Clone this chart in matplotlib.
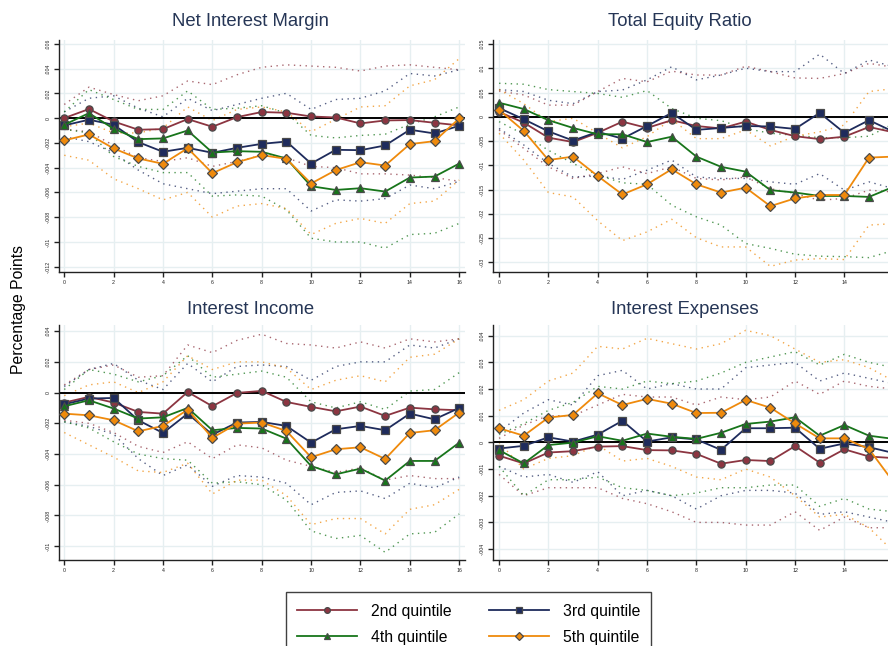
import matplotlib
matplotlib.use("Agg")
import matplotlib.pyplot as plt
from matplotlib.ticker import FixedLocator, FuncFormatter
from matplotlib.lines import Line2D
import numpy as np

plt.rcParams['font.family'] = ['Liberation Sans', 'DejaVu Sans']

horizon = list(range(17))
quintiles = ["2nd quintile", "3rd quintile", "4th quintile", "5th quintile"]
titles = ["Net Interest Margin", "Total Equity Ratio", "Interest Income", "Interest Expenses"]
ylabel = "Percentage Points"

# ---------------- Net Interest Margin ----------------
nim_q2 = [0.0, 0.00073, -0.00027, -0.00094, -0.00089, -0.00008, -0.0007, 0.00008, 0.00049, 0.00043, 0.00013, 0.00005, -0.00043, -0.00019, -0.00016, -0.00038, -0.00059]
nim_q3 = [-0.00059, -0.00013, -0.00054, -0.00194, -0.00272, -0.0024, -0.0028, -0.0024, -0.00208, -0.00189, -0.00367, -0.00256, -0.00259, -0.00221, -0.00094, -0.00124, -0.00062]
nim_q4 = [-0.00054, 0.0004, -0.00086, -0.0017, -0.00164, -0.001, -0.00278, -0.00267, -0.00272, -0.00326, -0.0055, -0.0058, -0.00566, -0.00593, -0.0048, -0.00472, -0.00367]
nim_q5 = [-0.0018, -0.00132, -0.00245, -0.00326, -0.00369, -0.00243, -0.00445, -0.00356, -0.00299, -0.00329, -0.00528, -0.0042, -0.00356, -0.00383, -0.0021, -0.00186, -0.00003]
nim_q2_hi = [0.0011, 0.0025, 0.0019, 0.0014, 0.0018, 0.003, 0.0027, 0.0035, 0.0041, 0.0043, 0.0042, 0.0041, 0.0038, 0.0042, 0.0043, 0.0041, 0.0039]
nim_q2_lo = [-0.0009, -0.0011, -0.0022, -0.0032, -0.0035, -0.0032, -0.0039, -0.0035, -0.003, -0.0032, -0.0039, -0.004, -0.0045, -0.0045, -0.0046, -0.0048, -0.0051]
nim_q3_hi = [0.0005, 0.0016, 0.0018, 0.0008, 0.0001, 0.0016, 0.0006, 0.0011, 0.0016, 0.002, 0.0007, 0.0015, 0.0016, 0.0022, 0.0036, 0.0034, 0.0039]
nim_q3_lo = [-0.0015, -0.0019, -0.0028, -0.0042, -0.0053, -0.0057, -0.0061, -0.0059, -0.0057, -0.0057, -0.0075, -0.0066, -0.0067, -0.0065, -0.0054, -0.0057, -0.0051]
nim_q4_hi = [0.0005, 0.0023, 0.0015, 0.0007, 0.0007, 0.0022, 0.0007, 0.0008, 0.001, 0.0004, -0.0014, -0.0016, -0.0014, -0.0013, -0.0005, 0.0001, 0.0009]
nim_q4_lo = [-0.0009, -0.0012, -0.0031, -0.0039, -0.0044, -0.0044, -0.0063, -0.0062, -0.0063, -0.0074, -0.0097, -0.01, -0.01, -0.0105, -0.0094, -0.0093, -0.0085]
nim_q5_hi = [-0.0007, -0.0004, -0.0012, -0.0012, -0.0008, 0.0009, -0.0002, 0.0007, 0.0009, 0.0005, -0.0011, -0.0001, 0.0009, 0.001, 0.0026, 0.0031, 0.0048]
nim_q5_lo = [-0.003, -0.0034, -0.0049, -0.0057, -0.0066, -0.006, -0.008, -0.0071, -0.0069, -0.0073, -0.0094, -0.0085, -0.0081, -0.0085, -0.0069, -0.0067, -0.005]

# ---------------- Total Equity Ratio ----------------
eq_q2 = [0.001, -0.0012, -0.0043, -0.0052, -0.0033, -0.001, -0.0023, -0.0007, -0.0019, -0.0024, -0.001, -0.0027, -0.004, -0.0046, -0.0041, -0.0021, -0.0032]
eq_q3 = [0.0018, -0.0005, -0.003, -0.0049, -0.0031, -0.0045, -0.0019, 0.0008, -0.0027, -0.0023, -0.0019, -0.002, -0.0025, 0.0008, -0.0033, -0.0007, -0.0031]
eq_q4 = [0.0029, 0.0016, -0.0007, -0.0023, -0.0036, -0.0036, -0.0052, -0.0041, -0.0082, -0.0103, -0.0113, -0.0151, -0.0156, -0.0163, -0.0163, -0.0165, -0.0144]
eq_q5 = [0.0014, -0.0029, -0.0089, -0.0082, -0.0122, -0.016, -0.0139, -0.0108, -0.0139, -0.0156, -0.0146, -0.0184, -0.0168, -0.0161, -0.0161, -0.0084, -0.0082]
eq_q2_hi = [0.0053, 0.0045, 0.0024, 0.0024, 0.0052, 0.0079, 0.0072, 0.0094, 0.0086, 0.0086, 0.0104, 0.0093, 0.008, 0.0079, 0.0089, 0.011, 0.0102]
eq_q2_lo = [-0.0027, -0.0065, -0.0103, -0.0127, -0.0117, -0.0103, -0.0117, -0.0103, -0.0127, -0.013, -0.0124, -0.0148, -0.0158, -0.0172, -0.0168, -0.0151, -0.0155]
eq_q3_hi = [0.0056, 0.0052, 0.0034, 0.0027, 0.0052, 0.0055, 0.0076, 0.0103, 0.0076, 0.0086, 0.01, 0.0093, 0.0093, 0.0129, 0.0089, 0.0117, 0.0103]
eq_q3_lo = [-0.0024, -0.0058, -0.0096, -0.0124, -0.0122, -0.0129, -0.011, -0.0089, -0.0124, -0.0127, -0.0127, -0.0134, -0.0139, -0.0117, -0.0151, -0.0134, -0.0148]
eq_q4_hi = [0.0069, 0.0067, 0.0056, 0.0052, 0.0048, 0.004, 0.0054, 0.0017, -0.0003, -0.0008, -0.0024, -0.0034, -0.0038, -0.0043, -0.0043, -0.004, -0.0014]
eq_q4_lo = [-0.001, -0.0036, -0.0069, -0.0096, -0.012, -0.0136, -0.0139, -0.0182, -0.0206, -0.0223, -0.0261, -0.0271, -0.0283, -0.0287, -0.0288, -0.029, -0.0275]
eq_q5_hi = [0.0056, 0.0027, -0.001, -0.0003, -0.0034, -0.0064, -0.0041, -0.0005, -0.0045, -0.0045, -0.0027, -0.006, -0.004, -0.0031, -0.0017, 0.0052, 0.0058]
eq_q5_lo = [-0.0034, -0.0089, -0.0156, -0.0165, -0.0214, -0.0255, -0.0237, -0.0211, -0.0249, -0.0268, -0.0268, -0.0308, -0.0295, -0.0292, -0.0294, -0.0223, -0.022]

# ---------------- Interest Income ----------------
ii_q2 = [-0.00065, -0.00028, -0.00065, -0.00126, -0.00137, 0.00004, -0.00089, -0.00002, 0.00011, -0.00061, -0.00093, -0.00122, -0.00091, -0.00152, -0.00098, -0.00109, -0.00115]
ii_q3 = [-0.00076, -0.00039, -0.00035, -0.0018, -0.00263, -0.00137, -0.00274, -0.00195, -0.00191, -0.00217, -0.00326, -0.00239, -0.00217, -0.00245, -0.00137, -0.00174, -0.001]
ii_q4 = [-0.00089, -0.0005, -0.00104, -0.00169, -0.00161, -0.001, -0.00245, -0.0023, -0.00234, -0.003, -0.00478, -0.00532, -0.00495, -0.00573, -0.00445, -0.00445, -0.00326]
ii_q5 = [-0.00137, -0.00148, -0.0018, -0.00252, -0.00217, -0.00111, -0.00295, -0.00202, -0.00195, -0.0025, -0.00421, -0.00369, -0.00356, -0.00432, -0.00263, -0.00245, -0.0013]
ii_q2_hi = [0.0005, 0.0015, 0.0018, 0.001, 0.0011, 0.0031, 0.0026, 0.0034, 0.0038, 0.0032, 0.0031, 0.0029, 0.0033, 0.0029, 0.0035, 0.0033, 0.0035]
ii_q2_lo = [-0.0018, -0.002, -0.0026, -0.0035, -0.0039, -0.0032, -0.0043, -0.0034, -0.0036, -0.0044, -0.0048, -0.0052, -0.0049, -0.0057, -0.0054, -0.0056, -0.0056]
ii_q3_hi = [0.0004, 0.0015, 0.0019, 0.0008, 0.0002, 0.0019, 0.0007, 0.0017, 0.0018, 0.0017, 0.0008, 0.0017, 0.002, 0.002, 0.0031, 0.0029, 0.0035]
ii_q3_lo = [-0.0019, -0.0022, -0.0027, -0.0043, -0.0054, -0.0047, -0.0061, -0.0054, -0.0055, -0.0059, -0.0073, -0.0065, -0.0064, -0.0069, -0.0059, -0.0062, -0.0055]
ii_q4_hi = [0.0002, 0.0015, 0.0012, 0.0007, 0.0011, 0.0024, 0.001, 0.0012, 0.0014, 0.001, -0.0006, -0.001, -0.0006, -0.0011, 0.0001, 0.0002, 0.0013]
ii_q4_lo = [-0.0019, -0.0023, -0.0032, -0.004, -0.0043, -0.0044, -0.0059, -0.0058, -0.006, -0.007, -0.009, -0.0095, -0.0093, -0.0104, -0.0092, -0.0091, -0.0079]
ii_q5_hi = [-0.0002, 0.0005, 0.0007, 0.0, 0.0007, 0.0024, 0.0015, 0.002, 0.002, 0.0016, 0.0002, 0.0008, 0.0011, 0.0007, 0.0023, 0.0025, 0.0035]
ii_q5_lo = [-0.0026, -0.0034, -0.0042, -0.0051, -0.0052, -0.0046, -0.0066, -0.0057, -0.0057, -0.0067, -0.0086, -0.0082, -0.0082, -0.0092, -0.0076, -0.0073, -0.0063]

# ---------------- Interest Expenses ----------------
ie_q2 = [-0.0005, -0.00079, -0.00038, -0.00033, -0.00016, -0.00014, -0.00029, -0.0003, -0.00043, -0.0008, -0.00066, -0.0007, -0.00014, -0.00076, -0.00026, -0.00053, -0.00059]
ie_q3 = [-0.00023, -0.00013, 0.00019, 0.00003, 0.00029, 0.00081, 0.00003, 0.00019, 0.00011, -0.00028, 0.00053, 0.00053, 0.00055, -0.00024, -0.00004, -0.00018, -0.0004]
ie_q4 = [-0.00029, -0.00079, -0.0001, -0.00001, 0.00023, 0.00006, 0.00033, 0.00021, 0.00013, 0.00036, 0.00069, 0.00078, 0.00094, 0.00025, 0.00065, 0.00025, 0.00013]
ie_q5 = [0.00053, 0.00025, 0.00093, 0.00103, 0.00184, 0.0014, 0.00163, 0.00145, 0.0011, 0.00111, 0.00159, 0.0013, 0.00071, 0.00015, 0.00015, -0.00025, -0.0015]
ie_q2_hi = [0.00015, 0.00065, 0.001, 0.001, 0.0014, 0.0018, 0.0017, 0.0017, 0.0014, 0.0017, 0.0016, 0.0017, 0.0023, 0.0018, 0.0023, 0.0021, 0.002]
ie_q2_lo = [-0.0012, -0.002, -0.0017, -0.0017, -0.0017, -0.0021, -0.0023, -0.0026, -0.003, -0.003, -0.0031, -0.0031, -0.0026, -0.0033, -0.0028, -0.0032, -0.0032]
ie_q3_hi = [0.0004, 0.0011, 0.0016, 0.0014, 0.0025, 0.0027, 0.002, 0.0022, 0.002, 0.002, 0.0028, 0.0029, 0.003, 0.0023, 0.0026, 0.0024, 0.0022]
ie_q3_lo = [-0.0009, -0.0013, -0.0012, -0.0015, -0.0011, -0.002, -0.0018, -0.002, -0.0025, -0.002, -0.0018, -0.0018, -0.0019, -0.0027, -0.0026, -0.0028, -0.003]
ie_q4_hi = [0.0003, 0.0007, 0.0012, 0.0015, 0.0021, 0.002, 0.0023, 0.0022, 0.0023, 0.0026, 0.003, 0.0032, 0.0034, 0.0029, 0.0033, 0.003, 0.0028]
ie_q4_lo = [-0.0009, -0.002, -0.0014, -0.0014, -0.0013, -0.0017, -0.0018, -0.002, -0.0019, -0.0017, -0.0017, -0.0016, -0.0016, -0.0024, -0.0021, -0.0025, -0.0026]
ie_q5_hi = [0.0012, 0.0016, 0.0023, 0.0026, 0.0036, 0.0035, 0.0039, 0.0037, 0.0035, 0.0037, 0.0042, 0.004, 0.0035, 0.003, 0.0031, 0.0028, 0.0023]
ie_q5_lo = [0.0, -0.001, -0.0006, -0.0005, -0.0001, -0.0007, -0.0006, -0.0009, -0.0013, -0.0014, -0.001, -0.0013, -0.002, -0.0028, -0.0027, -0.0032, -0.0041]

colors = ["#8c3541", "#1e2b5c", "#17751a", "#ef8a0c"]
markers = ["o", "s", "^", "D"]
msizes = [5.2, 5.2, 5.6, 5.4]
edge = "#4a4a4a"
title_color = "#263656"

panels = [
    dict(title=titles[0], means=[nim_q2, nim_q3, nim_q4, nim_q5],
         his=[nim_q2_hi, nim_q3_hi, nim_q4_hi, nim_q5_hi], los=[nim_q2_lo, nim_q3_lo, nim_q4_lo, nim_q5_lo],
         pos=[0.0668, 0.5794, 0.457, 0.3586], ylim=(-0.0124, 0.0063), yt=np.arange(-12, 7, 2) / 1000.0,
         xlim=(-0.2, 16.24), xt=list(range(0, 17, 2)), tx=250, ty=22),
    dict(title=titles[1], means=[eq_q2, eq_q3, eq_q4, eq_q5],
         his=[eq_q2_hi, eq_q3_hi, eq_q4_hi, eq_q5_hi], los=[eq_q2_lo, eq_q3_lo, eq_q4_lo, eq_q5_lo],
         pos=[0.5548, 0.5794, 0.4452, 0.3586], ylim=(-0.0319, 0.0158), yt=np.arange(-30, 16, 5) / 1000.0,
         xlim=(-0.26, 15.77), xt=list(range(0, 17, 2)), tx=680, ty=22),
    dict(title=titles[2], means=[ii_q2, ii_q3, ii_q4, ii_q5],
         his=[ii_q2_hi, ii_q3_hi, ii_q4_hi, ii_q5_hi], los=[ii_q2_lo, ii_q3_lo, ii_q4_lo, ii_q5_lo],
         pos=[0.0668, 0.1331, 0.457, 0.3638], ylim=(-0.0109, 0.0044), yt=np.arange(-10, 5, 2) / 1000.0,
         xlim=(-0.2, 16.24), xt=list(range(0, 17, 2)), tx=251, ty=309),
    dict(title=titles[3], means=[ie_q2, ie_q3, ie_q4, ie_q5],
         his=[ie_q2_hi, ie_q3_hi, ie_q4_hi, ie_q5_hi], los=[ie_q2_lo, ie_q3_lo, ie_q4_lo, ie_q5_lo],
         pos=[0.5548, 0.1331, 0.4452, 0.3638], ylim=(-0.00441, 0.0044), yt=np.arange(-4, 5, 1) / 1000.0,
         xlim=(-0.26, 15.77), xt=list(range(0, 17, 2)), tx=685, ty=309),
]


def stata_fmt(v, pos=None):
    s = f"{v:.3f}".rstrip("0").rstrip(".")
    if s in ("-0", "", "0"):
        return "0"
    s = s.replace("0.", ".", 1) if s.startswith("0.") else s.replace("-0.", "-.", 1)
    return s


W, H = 888, 646
fig = plt.figure(figsize=(W / 100, H / 100), dpi=100)

for p in panels:
    ax = fig.add_axes(p["pos"])
    ax.set_xlim(*p["xlim"])
    ax.set_ylim(*p["ylim"])
    ax.xaxis.set_major_locator(FixedLocator(p["xt"]))
    ax.yaxis.set_major_locator(FixedLocator(p["yt"]))
    ax.yaxis.set_major_formatter(FuncFormatter(stata_fmt))
    ax.grid(True, color="#e6eff1", lw=1.0, zorder=0)
    ax.set_axisbelow(True)
    for s in ("top", "right"):
        ax.spines[s].set_visible(False)
    for s in ("left", "bottom"):
        ax.spines[s].set_color("#222222")
        ax.spines[s].set_linewidth(1.0)
    ax.tick_params(axis="both", direction="out", length=3.5, width=1.0, color="#222222",
                   labelsize=3.8, labelcolor="#222222", pad=2.5)
    ax.tick_params(axis="y", labelrotation=90)
    plt.setp(ax.get_yticklabels(), va="center")

    for i in range(4):
        ax.plot(horizon, p["his"][i], color=colors[i], lw=1.0, ls=(0, (1, 3.2)), alpha=0.75, zorder=1)
        ax.plot(horizon, p["los"][i], color=colors[i], lw=1.0, ls=(0, (1, 3.2)), alpha=0.75, zorder=1)
    ax.axhline(0, color="black", lw=1.4, zorder=2)
    for i in range(4):
        ax.plot(horizon, p["means"][i], color=colors[i], lw=1.3, marker=markers[i], ms=msizes[i],
                markerfacecolor=colors[i], markeredgecolor=edge, markeredgewidth=0.9, zorder=3 + i,
                clip_on=True)
    fig.text(p["tx"] / W, 1 - p["ty"] / H, p["title"], ha="center", va="center",
             fontsize=13.3, color=title_color)

fig.text(18 / W, 1 - 310 / H, ylabel, rotation=90, ha="center", va="center", fontsize=11.3, color="black")

handles = [Line2D([], [], color=colors[i], lw=1.3, marker=markers[i], ms=msizes[i] * 0.8,
                  markerfacecolor=colors[i], markeredgecolor=edge, markeredgewidth=0.9) for i in range(4)]
order = [0, 2, 1, 3]
leg = fig.legend([handles[k] for k in order], [quintiles[k] for k in order], ncol=2,
                 loc="upper left", bbox_to_anchor=(285.7 / W, 1 - 592.3 / H),
                 frameon=True, fancybox=False, fontsize=11.3, handlelength=3.85,
                 handletextpad=0.85, columnspacing=2.4, borderpad=0.72, labelspacing=0.72,
                 borderaxespad=0.0)
leg.get_frame().set_edgecolor("#111111")
leg.get_frame().set_linewidth(1.0)

fig.savefig("out.png", dpi=100)
